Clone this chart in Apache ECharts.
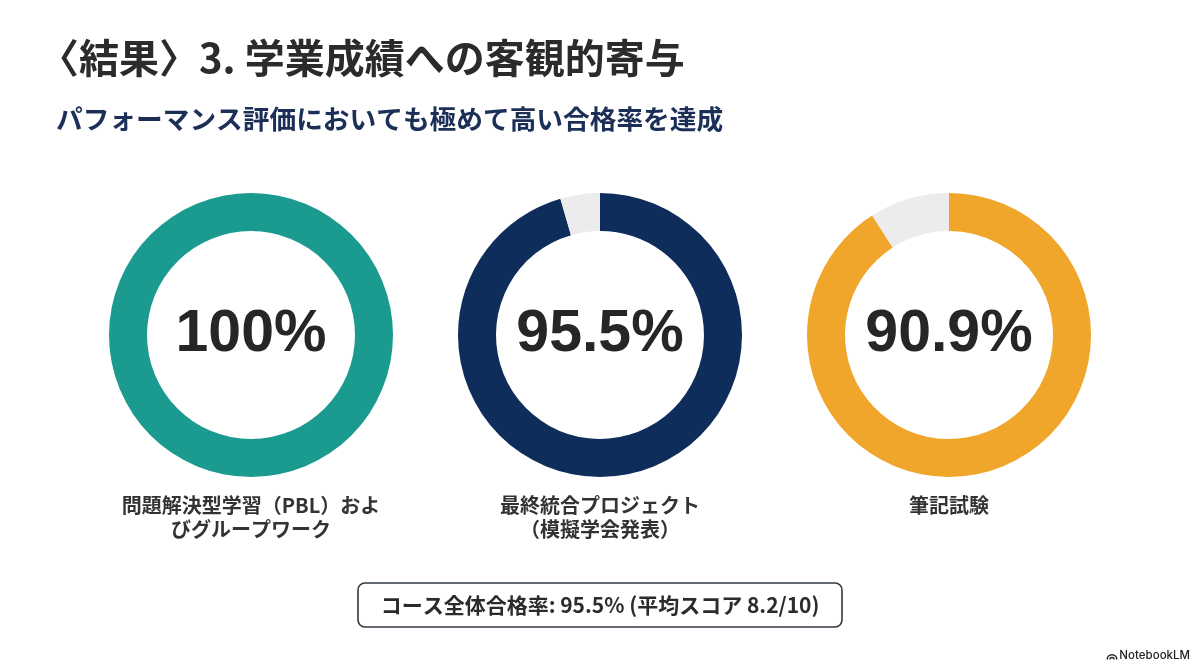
<!DOCTYPE html>
<html>
<head>
<meta charset="utf-8">
<script src="https://cdn.jsdelivr.net/npm/echarts@6/dist/echarts.min.js"></script>
<style>
html,body{margin:0;padding:0;background:#fff;}
#main{width:1200px;height:670px;}
</style>
</head>
<body>
<div id="main"></div>
<script>
// ---- data ----
const titleText = '〈結果〉3. 学業成績への客観的寄与';
const subtitleText = 'パフォーマンス評価においても極めて高い合格率を達成';
const categories = ['問題解決型学習（PBL）およ\nびグループワーク', '最終統合プロジェクト\n（模擬学会発表）', '筆記試験'];
const passRates = [100, 95.5, 90.9];
const summaryText = 'コース全体合格率: 95.5% (平均スコア 8.2/10)';
const brandText = 'NotebookLM';

// ---- styles ----
const ringColors = ['#1b9a90', '#0e2d5b', '#f0a52b'];
const restColor = '#ececec';
const centersX = [251, 600, 949];
const centerY = 335;
const CJK = '"Noto Sans CJK JP", "Noto Sans", sans-serif';

const chart = echarts.init(document.getElementById('main'), null, {renderer: 'canvas'});

const series = passRates.map((v, i) => ({
  type: 'pie',
  center: [centersX[i], centerY],
  radius: [104, 142],
  startAngle: 90,
  clockwise: true,
  silent: true,
  animation: false,
  labelLine: {show: false},
  data: [
    {
      value: v,
      name: categories[i],
      itemStyle: {color: ringColors[i]},
      label: {
        show: true,
        position: 'center',
        formatter: () => v + '%',
        fontFamily: '"Liberation Sans", Arial, sans-serif',
        fontWeight: 'bold',
        fontSize: 59,
        color: '#262626'
      }
    },
    {
      value: Math.round((100 - v) * 10) / 10,
      name: 'rest',
      itemStyle: {color: restColor},
      label: {show: false}
    }
  ]
}));

const graphic = [
  {
    type: 'text', left: 39, top: 38,
    style: {text: titleText, fontFamily: CJK, fontWeight: 'bold', fontSize: 40, fill: '#2b2b2b'}
  },
  {
    type: 'text', left: 56, top: 106,
    style: {text: subtitleText, fontFamily: CJK, fontWeight: 'bold', fontSize: 26.7, fill: '#1b2f57'}
  },
  {
    type: 'rect', shape: {x: 358, y: 583, width: 484, height: 44, r: 7},
    style: {fill: '#fff', stroke: '#2f3945', lineWidth: 1.6}
  },
  {
    type: 'text', x: 600, y: 605,
    style: {text: summaryText, fontFamily: CJK, fontWeight: 'bold', fontSize: 21, fill: '#2b2b2b', align: 'center', verticalAlign: 'middle'}
  },
  {
    type: 'text', x: 1190, y: 656,
    style: {text: brandText, fontFamily: '"Inter", "Noto Sans", sans-serif', fontWeight: 500, fontSize: 11.5, fill: '#222', align: 'right', verticalAlign: 'middle'}
  },
  {
    type: 'arc', shape: {cx: 1112, cy: 659.5, r: 4.8, startAngle: Math.PI, endAngle: 2 * Math.PI, clockwise: true},
    style: {stroke: '#222', lineWidth: 1.5, fill: null}
  },
  {
    type: 'arc', shape: {cx: 1112, cy: 659.5, r: 2, startAngle: Math.PI, endAngle: 2 * Math.PI, clockwise: true},
    style: {stroke: '#222', lineWidth: 1.5, fill: null}
  }
];

categories.forEach((c, i) => {
  graphic.push({
    type: 'text', x: centersX[i], y: 493,
    style: {text: c, fontFamily: CJK, fontWeight: 'bold', fontSize: 20, lineHeight: 24, fill: '#333', align: 'center', verticalAlign: 'top'}
  });
});

chart.setOption({
  backgroundColor: '#ffffff',
  animation: false,
  series: series,
  graphic: graphic
});
</script>
</body>
</html>
